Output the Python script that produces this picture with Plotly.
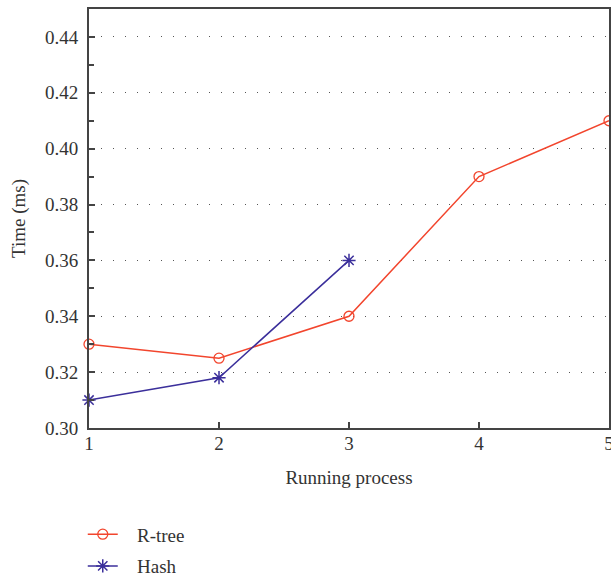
import plotly.graph_objects as go

process = [1, 2, 3, 4, 5]
rtree = [0.33, 0.325, 0.34, 0.39, 0.41]
hash_x = [1, 2, 3]
hash_vals = [0.31, 0.318, 0.36]
y_ticks = [0.30, 0.32, 0.34, 0.36, 0.38, 0.40, 0.42, 0.44]
series_names = ["R-tree", "Hash"]

RED = "#f2452d"
BLUE = "#3b2f9b"
AX = "#444444"
FONT = "Liberation Serif"
FS = 19
PAD = "\u00a0\u00a0\u00a0"

fig = go.Figure()
fig.add_trace(go.Scatter(
    x=process, y=rtree, mode="lines+markers", name=PAD + series_names[0],
    line=dict(color=RED, width=1.5),
    marker=dict(symbol="circle-open", size=10, color=RED, line=dict(width=1.3)),
    cliponaxis=False, legendgroup="a"))
fig.add_trace(go.Scatter(
    x=hash_x, y=hash_vals, mode="lines+markers", name=PAD + series_names[1],
    line=dict(color=BLUE, width=1.5),
    marker=dict(symbol="asterisk-open", size=11, color=BLUE, line=dict(width=1.5, color=BLUE)),
    cliponaxis=False, legendgroup="b"))

fig.update_layout(
    width=611, height=580,
    margin=dict(l=89, r=2, t=9, b=152, autoexpand=False),
    plot_bgcolor="white", paper_bgcolor="white",
    font=dict(family=FONT, size=FS, color="#333333"),
    showlegend=True,
    legend=dict(orientation="v", x=-0.012, xanchor="left",
                yref="container", y=0.1115, yanchor="top",
                font=dict(family=FONT, size=FS, color="#333333"),
                tracegroupgap=4, bgcolor="rgba(0,0,0,0)"),
)
fig.update_xaxes(
    range=[1, 5], tickvals=process, ticktext=[str(v) for v in process],
    showline=True, linecolor=AX, linewidth=2, mirror=True,
    ticks="inside", ticklen=6, tickcolor=AX, tickwidth=1.5,
    ticklabeloverflow="allow", ticklabelstandoff=-3,
    showgrid=False, zeroline=False,
    title=dict(text="Running process", font=dict(family=FONT, size=FS), standoff=18),
    tickfont=dict(family=FONT, size=FS),
)
fig.update_yaxes(
    range=[0.30, 0.45], tickvals=y_ticks, ticktext=[f"{v:.2f}" for v in y_ticks],
    showline=True, linecolor=AX, linewidth=2, mirror=True,
    ticks="inside", ticklen=6, tickcolor=AX, tickwidth=1.5,
    ticklabelstandoff=5,
    minor=dict(dtick=0.01, tick0=0.30, ticks="inside", ticklen=5, tickcolor=AX, tickwidth=1.5, showgrid=False),
    showgrid=True, gridcolor="#555555", gridwidth=1.2, griddash="1px,11px",
    zeroline=False,
    title=dict(text="Time (ms)", font=dict(family=FONT, size=FS), standoff=14),
    tickfont=dict(family=FONT, size=FS),
)

fig.write_html("out.html", config={"displayModeBar": False},
               post_script="document.body.style.margin='0';document.body.style.overflow='hidden';")
